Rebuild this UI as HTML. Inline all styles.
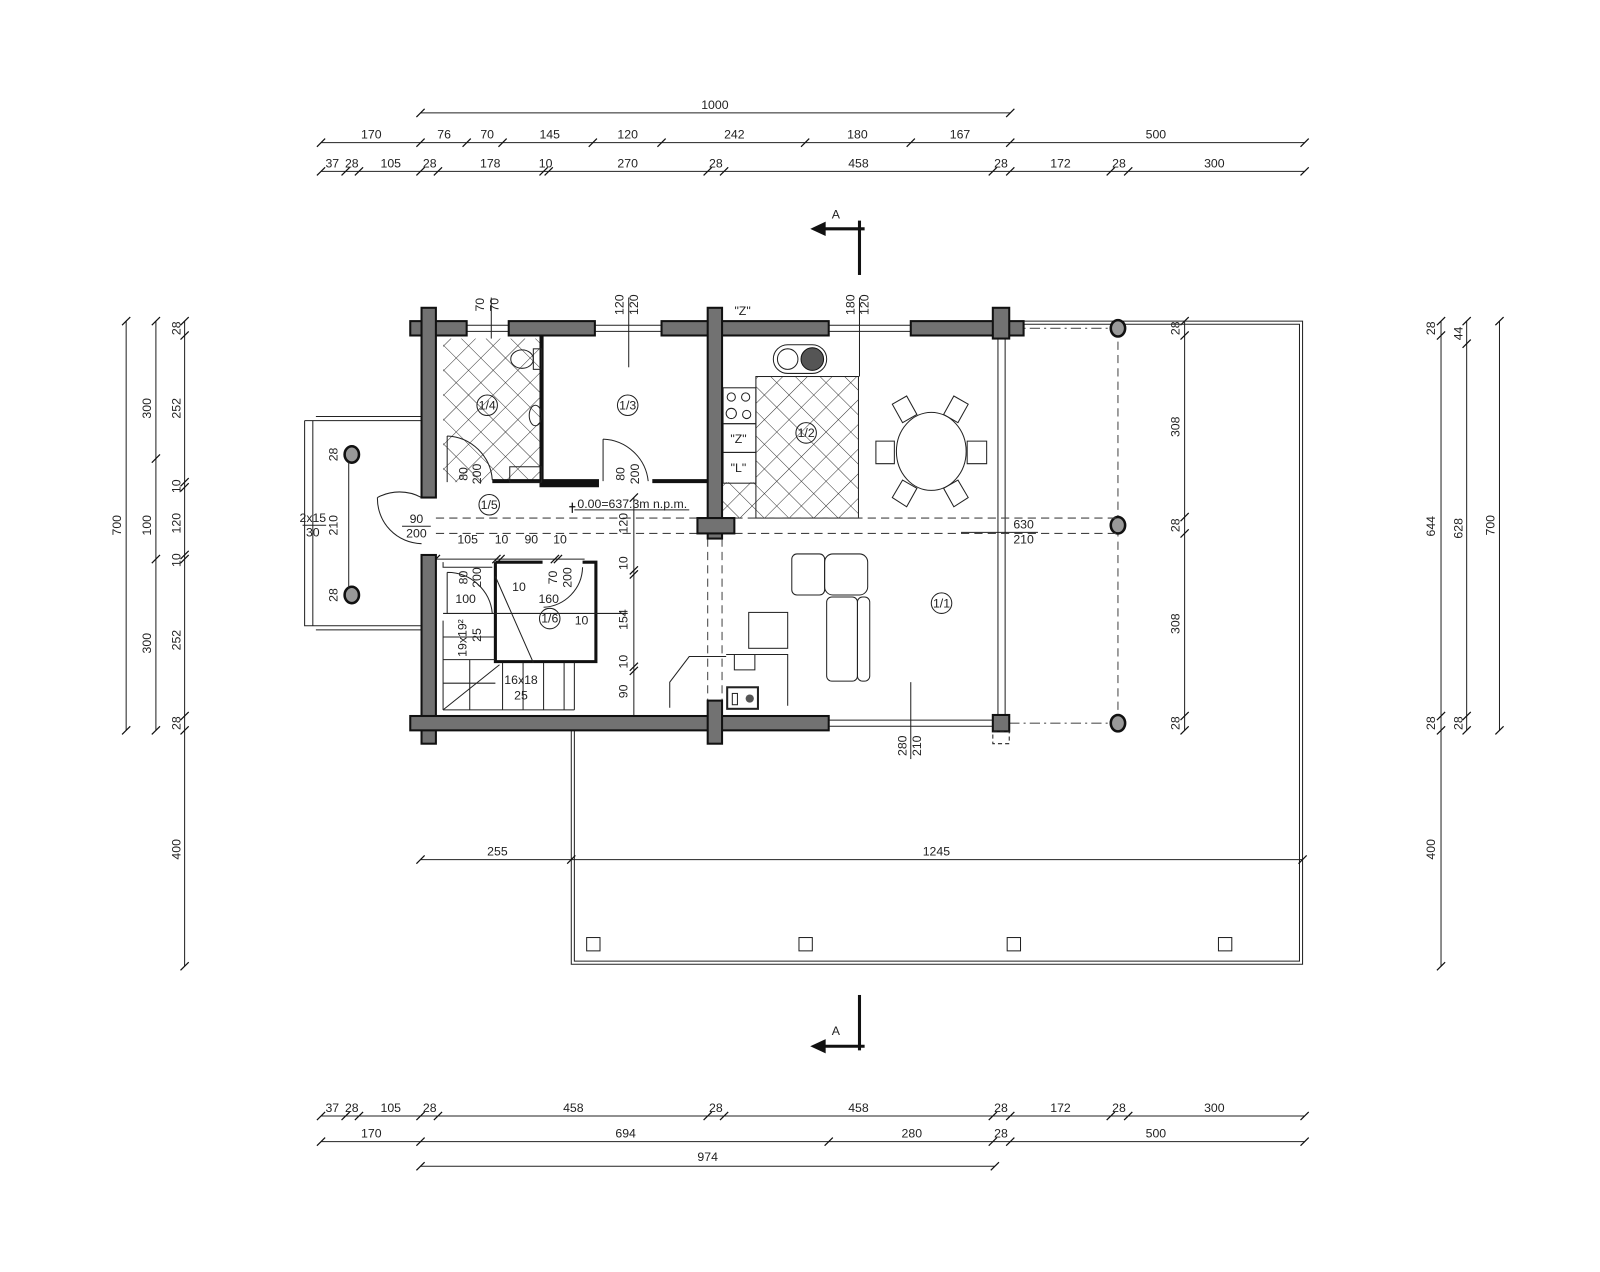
<!DOCTYPE html>
<html><head><meta charset="utf-8"><style>
html,body{margin:0;padding:0;background:#fff;}
svg{display:block;}
text{font-family:"Liberation Sans",sans-serif;font-size:12px;fill:#222;}
.w{fill:#727272;stroke:#111;stroke-width:2;}
.l{stroke:#222;stroke-width:1;fill:none;}
.t{stroke:#111;stroke-width:1.2;fill:none;}
.d{stroke:#444;stroke-width:1;fill:none;stroke-dasharray:8,5;}
.dd{stroke:#555;stroke-width:1;fill:none;stroke-dasharray:10,4,2,4;}
.c{fill:#999;stroke:#111;stroke-width:2.5;}
</style></head><body>
<svg width="1600" height="1272" viewBox="0 0 1560 1240" xmlns="http://www.w3.org/2000/svg">
<defs>
<pattern id="hx" width="17" height="17" patternUnits="userSpaceOnUse" patternTransform="rotate(45)">
<rect width="17" height="17" fill="#fff"/><path d="M0 0H17M0 0V17" stroke="#333" stroke-width="1"/>
</pattern>
</defs>

<!-- TOP DIMENSIONS -->
<line class="l" x1="410" y1="110" x2="985" y2="110"/>
<path class="t" d="M406 114L414 106M981 114L989 106"/>
<text x="697" y="106" text-anchor="middle">1000</text>

<line class="l" x1="313" y1="139" x2="1272" y2="139"/>
<path class="t" d="M309 143L317 135M406 143L414 135M451 143L459 135M486 143L494 135M574 143L582 135M641 143L649 135M781 143L789 135M884 143L892 135M981 143L989 135M1268 143L1276 135"/>
<g text-anchor="middle">
<text x="362" y="135">170</text><text x="433" y="135">76</text><text x="475" y="135">70</text><text x="536" y="135">145</text><text x="612" y="135">120</text><text x="716" y="135">242</text><text x="836" y="135">180</text><text x="936" y="135">167</text><text x="1127" y="135">500</text>
</g>
<line class="l" x1="313" y1="167" x2="1272" y2="167"/>
<path class="t" d="M309 171L317 163M333 171L341 163M346 171L354 163M406 171L414 163M423 171L431 163M526 171L534 163M531 171L539 163M686 171L694 163M702 171L710 163M964 171L972 163M981 171L989 163M1079 171L1087 163M1096 171L1104 163M1268 171L1276 163"/>
<g text-anchor="middle">
<text x="324" y="163">37</text><text x="343" y="163">28</text><text x="381" y="163">105</text><text x="419" y="163">28</text><text x="478" y="163">178</text><text x="532" y="163">10</text><text x="612" y="163">270</text><text x="698" y="163">28</text><text x="837" y="163">458</text><text x="976" y="163">28</text><text x="1034" y="163">172</text><text x="1091" y="163">28</text><text x="1184" y="163">300</text>
</g>

<!-- Section A top -->
<line x1="838" y1="215" x2="838" y2="268" stroke="#111" stroke-width="3"/>
<line x1="798" y1="223" x2="843" y2="223" stroke="#111" stroke-width="3"/>
<path d="M790 223L805 216L805 230Z" fill="#111"/>
<text x="815" y="213" text-anchor="middle" font-size="14">A</text>
<!-- Section A bottom -->
<line x1="838" y1="970" x2="838" y2="1024" stroke="#111" stroke-width="3"/>
<line x1="798" y1="1020" x2="843" y2="1020" stroke="#111" stroke-width="3"/>
<path d="M790 1020L805 1013L805 1027Z" fill="#111"/>
<text x="815" y="1009" text-anchor="middle" font-size="14">A</text>

<!-- LEFT DIMENSIONS -->
<line class="l" x1="123" y1="313" x2="123" y2="712"/>
<path class="t" d="M119 317L127 309M119 716L127 708"/>
<text transform="translate(118,512) rotate(-90)" text-anchor="middle">700</text>
<line class="l" x1="152" y1="313" x2="152" y2="712"/>
<path class="t" d="M148 317L156 309M148 451L156 443M148 549L156 541M148 716L156 708"/>
<text transform="translate(147,398) rotate(-90)" text-anchor="middle">300</text>
<text transform="translate(147,512) rotate(-90)" text-anchor="middle">100</text>
<text transform="translate(147,627) rotate(-90)" text-anchor="middle">300</text>
<line class="l" x1="180" y1="313" x2="180" y2="942"/>
<path class="t" d="M176 317L184 309M176 331L184 323M176 474L184 466M176 479L184 471M176 545L184 537M176 549L184 541M176 702L184 694M176 716L184 708M176 946L184 938"/>
<g>
<text transform="translate(176,320) rotate(-90)" text-anchor="middle">28</text>
<text transform="translate(176,398) rotate(-90)" text-anchor="middle">252</text>
<text transform="translate(176,474) rotate(-90)" text-anchor="middle">10</text>
<text transform="translate(176,510) rotate(-90)" text-anchor="middle">120</text>
<text transform="translate(176,546) rotate(-90)" text-anchor="middle">10</text>
<text transform="translate(176,624) rotate(-90)" text-anchor="middle">252</text>
<text transform="translate(176,705) rotate(-90)" text-anchor="middle">28</text>
<text transform="translate(176,828) rotate(-90)" text-anchor="middle">400</text>
</g>

<!-- RIGHT DIMENSIONS -->
<line class="l" x1="1405" y1="313" x2="1405" y2="942"/>
<path class="t" d="M1401 317L1409 309M1401 331L1409 323M1401 702L1409 694M1401 716L1409 708M1401 946L1409 938"/>
<text transform="translate(1399,320) rotate(-90)" text-anchor="middle">28</text>
<text transform="translate(1399,513) rotate(-90)" text-anchor="middle">644</text>
<text transform="translate(1399,705) rotate(-90)" text-anchor="middle">28</text>
<text transform="translate(1399,828) rotate(-90)" text-anchor="middle">400</text>
<line class="l" x1="1430" y1="313" x2="1430" y2="712"/>
<path class="t" d="M1426 317L1434 309M1426 339L1434 331M1426 702L1434 694M1426 716L1434 708"/>
<text transform="translate(1426,325) rotate(-90)" text-anchor="middle">44</text>
<text transform="translate(1426,515) rotate(-90)" text-anchor="middle">628</text>
<text transform="translate(1426,705) rotate(-90)" text-anchor="middle">28</text>
<line class="l" x1="1462" y1="313" x2="1462" y2="712"/>
<path class="t" d="M1458 317L1466 309M1458 716L1466 708"/>
<text transform="translate(1457,512) rotate(-90)" text-anchor="middle">700</text>

<!-- inner right dims -->
<line class="l" x1="1155" y1="313" x2="1155" y2="712"/>
<path class="t" d="M1151 317L1159 309M1151 331L1159 323M1151 508L1159 500M1151 524L1159 516M1151 702L1159 694M1151 716L1159 708"/>
<text transform="translate(1150,320) rotate(-90)" text-anchor="middle">28</text>
<text transform="translate(1150,416) rotate(-90)" text-anchor="middle">308</text>
<text transform="translate(1150,512) rotate(-90)" text-anchor="middle">28</text>
<text transform="translate(1150,608) rotate(-90)" text-anchor="middle">308</text>
<text transform="translate(1150,705) rotate(-90)" text-anchor="middle">28</text>

<!-- TERRACE -->
<path class="l" d="M984 313H1270V940H557V712"/>
<path class="l" d="M984 316H1267V937H560V712" stroke="#888"/>
<g class="l">
<rect x="572" y="914" width="13" height="13"/><rect x="779" y="914" width="13" height="13"/><rect x="982" y="914" width="13" height="13"/><rect x="1188" y="914" width="13" height="13"/>
</g>
<path class="dd" d="M984 320H1090M984 705H1090"/>
<line class="d" x1="1090" y1="320" x2="1090" y2="705" stroke-dasharray="6,4"/>
<ellipse class="c" cx="1090" cy="320" rx="7" ry="8"/>
<ellipse class="c" cx="1090" cy="512" rx="7" ry="8"/>
<ellipse class="c" cx="1090" cy="705" rx="7" ry="8"/>
<!-- glass wall right -->
<path class="l" d="M973 327V697M980 327V697"/>
<!-- windows -->
<path class="l" d="M455 317H496M455 323H496M580 317H645M580 323H645M808 317H888M808 323H888M808 702H968M808 708H968"/>

<!-- left porch -->
<path class="l" d="M297 410H411M297 410V610H411M305 410V610" />
<path class="l" d="M308 406H411M308 614H411" stroke="#888"/>
<ellipse class="c" cx="343" cy="443" rx="7" ry="8"/>
<ellipse class="c" cx="343" cy="580" rx="7" ry="8"/>
<line class="l" x1="340" y1="450" x2="340" y2="574"/>
<text x="305" y="509" text-anchor="middle" font-size="11">2x15</text>
<text x="305" y="523" text-anchor="middle" font-size="11">30</text>
<line class="l" x1="295" y1="512" x2="318" y2="512"/>
<text transform="translate(329,512) rotate(-90)" text-anchor="middle" font-size="11">210</text>
<text transform="translate(329,443) rotate(-90)" text-anchor="middle" font-size="11">28</text>
<text transform="translate(329,580) rotate(-90)" text-anchor="middle" font-size="11">28</text>

<!-- TILES -->
<rect x="432" y="330" width="96" height="140" fill="url(#hx)"/>
<rect x="737" y="367" width="100" height="138" fill="url(#hx)"/>
<rect x="704" y="470" width="34" height="35" fill="url(#hx)"/>
<rect x="737" y="367" width="100" height="138" class="l"/>

<!-- interior partitions -->
<path d="M528 327V473H584M528 469H584M636 469H690" stroke="#111" stroke-width="4" fill="none"/>
<path d="M480 469H528" stroke="#111" stroke-width="4"/>
<path class="l" d="M436 425V470M436 425A46 46 0 0 1 480 468"/>
<path class="l" d="M588 428V469M588 428A46 46 0 0 1 632 469"/>
<ellipse class="l" cx="509" cy="350" rx="11" ry="9"/><rect class="l" x="520" y="340" width="8" height="20"/>
<ellipse class="l" cx="522" cy="405" rx="6" ry="10"/>
<rect class="l" x="497" y="455" width="31" height="15"/>
<!-- kitchen -->
<rect class="l" x="705" y="378" width="32" height="35"/>
<circle class="l" cx="713" cy="387" r="4"/><circle class="l" cx="727" cy="387" r="4"/><circle class="l" cx="713" cy="403" r="5"/><circle class="l" cx="728" cy="404" r="4"/>
<rect class="l" x="705" y="413" width="32" height="28"/><rect class="l" x="705" y="441" width="32" height="30"/>
<text x="720" y="432" text-anchor="middle" font-size="11">"Z"</text>
<text x="720" y="460" text-anchor="middle" font-size="11">"L"</text>
<text x="724" y="307" text-anchor="middle" font-size="11">"Z"</text>
<rect class="l" x="754" y="336" width="52" height="28" rx="14"/>
<circle class="l" cx="768" cy="350" r="10"/><circle cx="792" cy="350" r="11" fill="#555" stroke="#111"/>
<!-- dining -->
<ellipse class="l" cx="908" cy="440" rx="34" ry="38"/>
<g class="l">
<path d="M854 430H872V452H854Z"/><path d="M943 430H962V452H943Z"/>
<path d="M870 394L884 386L894 404L880 412Z"/><path d="M920 404L930 386L944 394L934 412Z"/>
<path d="M870 485L880 468L894 476L884 494Z"/><path d="M920 476L934 468L944 485L930 494Z"/>
</g>
<!-- living -->
<g class="l">
<rect x="772" y="540" width="32" height="40" rx="5"/><rect x="804" y="540" width="42" height="40" rx="8"/>
<rect x="806" y="582" width="30" height="82" rx="5"/><rect x="836" y="582" width="12" height="82" rx="5"/>
<rect x="730" y="597" width="38" height="35"/>
<path d="M708 638H768V688M716 638V653H736V638"/>
<path d="M653 690V665L672 640H708"/>
<rect x="709" y="670" width="30" height="21" stroke-width="2"/>
</g>
<circle cx="731" cy="681" r="4" fill="#555"/><rect class="l" x="714" y="676" width="5" height="11"/>

<path class="d" d="M425 505H680M716 505H1090M425 520H680M716 520H1090M690 525V683M704 525V683"/>

<!-- stairs area -->
<path d="M483 548H529M483 548V645H581V548H568" stroke="#111" stroke-width="3" fill="none"/>
<g class="l">
<path d="M432 548V553H480M432 598H612M432 605V692M432 692H560M490 646V692M510 646V692M530 646V692M550 646V692M560 646V692M432 621H483M432 643H483M458 643V692M432 666H483"/>
<path d="M483 562L520 646M432 692L487 648"/>
<path d="M436 558V598M436 558A44 44 0 0 1 480 598"/>
<path d="M568 553A40 40 0 0 1 530 592"/>
</g>
<path class="l" d="M411 485A45 45 0 0 0 368 485M368 485A44 44 0 0 0 411 530"/>

<!-- inner dims -->
<line class="l" x1="425" y1="545" x2="570" y2="545"/>
<path class="t" d="M421 549L429 541M480 549L488 541M484 549L492 541M537 549L545 541M540 549L548 541"/>
<g text-anchor="middle" font-size="12">
<text x="456" y="530">105</text><text x="489" y="530">10</text><text x="518" y="530">90</text><text x="546" y="530">10</text>
<text x="454" y="588">100</text><text x="535" y="588">160</text><text x="506" y="576">10</text><text x="567" y="609">10</text>
<text x="508" y="667" font-size="11">16x18</text><text x="508" y="682" font-size="11">25</text>
<text x="406" y="510">90</text><text x="406" y="524">200</text>
</g>
<line class="l" x1="392" y1="513" x2="420" y2="513"/>
<text transform="translate(456,462) rotate(-90)" font-size="11" text-anchor="middle">80</text>
<text transform="translate(469,462) rotate(-90)" font-size="11" text-anchor="middle">200</text>
<text transform="translate(609,462) rotate(-90)" font-size="11" text-anchor="middle">80</text>
<text transform="translate(623,462) rotate(-90)" font-size="11" text-anchor="middle">200</text>
<text transform="translate(456,563) rotate(-90)" font-size="11" text-anchor="middle">80</text>
<text transform="translate(469,563) rotate(-90)" font-size="11" text-anchor="middle">200</text>
<text transform="translate(543,563) rotate(-90)" font-size="11" text-anchor="middle">70</text>
<text transform="translate(557,563) rotate(-90)" font-size="11" text-anchor="middle">200</text>
<text transform="translate(455,622) rotate(-90)" font-size="10" text-anchor="middle">19x19²</text>
<text transform="translate(469,619) rotate(-90)" font-size="11" text-anchor="middle">25</text>
<line class="l" x1="618" y1="485" x2="618" y2="702"/>
<path class="t" d="M614 489L622 481M614 560L622 552M614 564L622 556M614 654L622 646M614 658L622 650M614 706L622 698"/>
<text transform="translate(612,510) rotate(-90)" text-anchor="middle">120</text>
<text transform="translate(612,549) rotate(-90)" text-anchor="middle">10</text>
<text transform="translate(612,604) rotate(-90)" text-anchor="middle">154</text>
<text transform="translate(612,645) rotate(-90)" text-anchor="middle">10</text>
<text transform="translate(612,674) rotate(-90)" text-anchor="middle">90</text>
<text x="563" y="495" font-size="12">0.00=637.3m n.p.m.</text>
<line class="l" x1="560" y1="497" x2="672" y2="497"/>
<path class="t" d="M558 490V500M555 494H561"/>
<line class="l" x1="479" y1="290" x2="479" y2="330"/>
<text transform="translate(472,297) rotate(-90)" font-size="11" text-anchor="middle">70</text>
<text transform="translate(486,297) rotate(-90)" font-size="11" text-anchor="middle">70</text>
<line class="l" x1="613" y1="290" x2="613" y2="358"/>
<text transform="translate(608,297) rotate(-90)" font-size="11" text-anchor="middle">120</text>
<text transform="translate(622,297) rotate(-90)" font-size="11" text-anchor="middle">120</text>
<line class="l" x1="838" y1="290" x2="838" y2="367"/>
<text transform="translate(833,297) rotate(-90)" font-size="11" text-anchor="middle">180</text>
<text transform="translate(847,297) rotate(-90)" font-size="11" text-anchor="middle">120</text>
<line class="l" x1="888" y1="665" x2="888" y2="740"/>
<text transform="translate(884,727) rotate(-90)" font-size="11" text-anchor="middle">280</text>
<text transform="translate(898,727) rotate(-90)" font-size="11" text-anchor="middle">210</text>
<line class="l" x1="937" y1="519" x2="1012" y2="519"/>
<text x="998" y="515" font-size="11" text-anchor="middle">630</text>
<text x="998" y="530" font-size="11" text-anchor="middle">210</text>

<g class="l"><circle cx="475" cy="395" r="10"/><circle cx="612" cy="395" r="10"/><circle cx="786" cy="422" r="10"/><circle cx="477" cy="492" r="10"/><circle cx="536" cy="603" r="10"/><circle cx="918" cy="588" r="10"/></g>
<g text-anchor="middle" font-size="10">
<text x="475" y="399">1/4</text><text x="612" y="399">1/3</text><text x="786" y="426">1/2</text><text x="477" y="496">1/5</text><text x="536" y="607">1/6</text><text x="918" y="592">1/1</text>
</g>

<!-- WALLS -->
<rect class="w" x="400" y="313" width="55" height="14"/>
<rect class="w" x="496" y="313" width="84" height="14"/>
<rect class="w" x="645" y="313" width="163" height="14"/>
<rect class="w" x="888" y="313" width="110" height="14"/>
<rect class="w" x="411" y="300" width="14" height="185"/>
<rect class="w" x="411" y="541" width="14" height="184"/>
<rect class="w" x="690" y="300" width="14" height="225"/>
<rect class="w" x="680" y="505" width="36" height="15"/>
<rect class="w" x="968" y="300" width="16" height="30"/>
<rect class="w" x="400" y="698" width="408" height="14"/>
<rect class="w" x="690" y="683" width="14" height="42"/>
<rect class="w" x="968" y="697" width="16" height="16"/>
<rect class="l" x="968" y="713" width="16" height="12" stroke-dasharray="4,3"/>

<!-- MIDDLE DIM -->
<line class="l" x1="410" y1="838" x2="1270" y2="838"/>
<path class="t" d="M406 842L414 834M553 842L561 834M1266 842L1274 834"/>
<text x="485" y="834" text-anchor="middle">255</text>
<text x="913" y="834" text-anchor="middle">1245</text>

<!-- BOTTOM DIMS -->
<line class="l" x1="313" y1="1088" x2="1272" y2="1088"/>
<path class="t" d="M309 1092L317 1084M333 1092L341 1084M346 1092L354 1084M406 1092L414 1084M423 1092L431 1084M686 1092L694 1084M702 1092L710 1084M964 1092L972 1084M981 1092L989 1084M1079 1092L1087 1084M1096 1092L1104 1084M1268 1092L1276 1084"/>
<g text-anchor="middle">
<text x="324" y="1084">37</text><text x="343" y="1084">28</text><text x="381" y="1084">105</text><text x="419" y="1084">28</text><text x="559" y="1084">458</text><text x="698" y="1084">28</text><text x="837" y="1084">458</text><text x="976" y="1084">28</text><text x="1034" y="1084">172</text><text x="1091" y="1084">28</text><text x="1184" y="1084">300</text>
</g>
<line class="l" x1="313" y1="1113" x2="1272" y2="1113"/>
<path class="t" d="M309 1117L317 1109M406 1117L414 1109M804 1117L812 1109M964 1117L972 1109M981 1117L989 1109M1268 1117L1276 1109"/>
<g text-anchor="middle">
<text x="362" y="1109">170</text><text x="610" y="1109">694</text><text x="889" y="1109">280</text><text x="976" y="1109">28</text><text x="1127" y="1109">500</text>
</g>
<line class="l" x1="410" y1="1137" x2="970" y2="1137"/>
<path class="t" d="M406 1141L414 1133M966 1141L974 1133"/>
<text x="690" y="1132" text-anchor="middle">974</text>
</svg>
</body></html>
